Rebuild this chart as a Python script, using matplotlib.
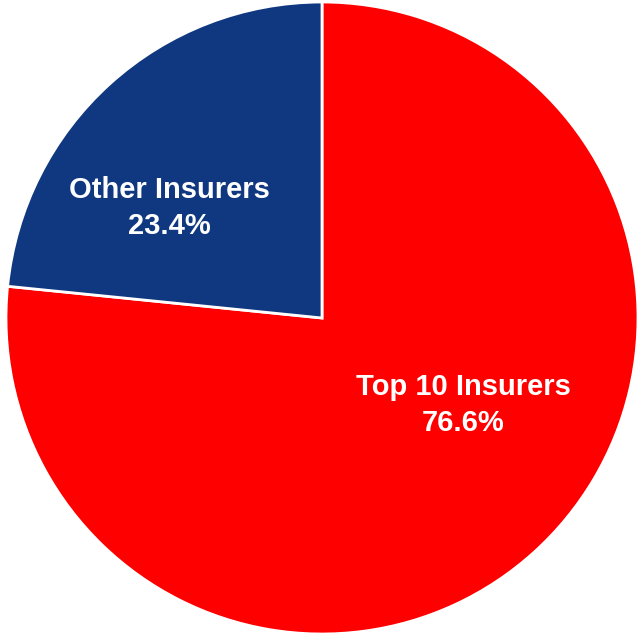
import matplotlib.pyplot as plt

# valores da pizza
categorias = ["Top 10 Insurers", "Other Insurers"]
valores = [76.6, 23.4]
cores = ["#FF0000", "#0F3880"]

fig = plt.figure(figsize=(6.39, 6.34), dpi=100)
ax = fig.add_axes([6 / 639, 0 / 634, 632 / 639, 632 / 634])

ax.pie(valores, colors=cores, startangle=90, counterclock=False,
       wedgeprops=dict(edgecolor="white", linewidth=2))
ax.set_aspect("equal")
ax.set_xlim(-1.0, 1.0)
ax.set_ylim(-1.0, 1.0)

# posições dos rótulos (em unidades do raio)
pos_rotulos = [(0.448, -0.276), (-0.483, 0.349)]
for nome, v, (x, y) in zip(categorias, valores, pos_rotulos):
    ax.text(x, y, f"{nome}\n{v:.1f}%", ha="center", va="center",
            color="white", fontsize=21, fontweight="bold",
            family="Liberation Sans", linespacing=1.38)

fig.savefig("out.png", dpi=100)
